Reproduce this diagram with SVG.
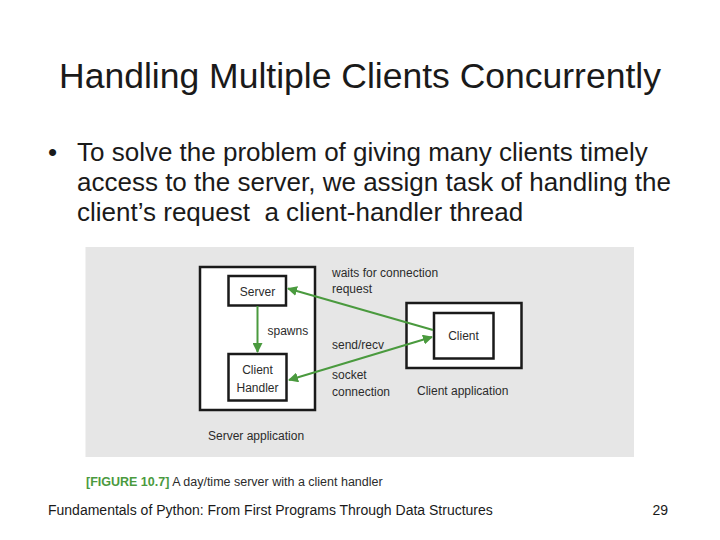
<svg xmlns="http://www.w3.org/2000/svg" width="720" height="540" viewBox="0 0 720 540">
<defs>
<marker id="ah" viewBox="0 0 10 10" refX="9" refY="5" markerWidth="5" markerHeight="5" orient="auto-start-reverse" markerUnits="strokeWidth">
<path d="M0,0 L10,5 L0,10 z" fill="#4a9a3e"/>
</marker>
<style>
.slide{font-family:"Liberation Sans",Arial,sans-serif;fill:#1a1a1a}
.lbl{font-family:"Liberation Sans",Arial,sans-serif;font-size:12px;fill:#2b2b2b}
.box{fill:#ffffff;stroke:#1a1a1a;stroke-width:2.5}
.conn{stroke:#4a9a3e;stroke-width:2;fill:none}
</style>
</defs>
<rect width="720" height="540" fill="#ffffff"/>
<text class="slide" x="360" y="88" font-size="35.5" text-anchor="middle">Handling Multiple Clients Concurrently</text>
<g class="slide" font-size="26">
<text x="48" y="161">•</text>
<text x="77" y="161">To solve the problem of giving many clients timely</text>
<text x="77" y="191">access to the server, we assign task of handling the</text>
<text x="77" y="221" style="white-space:pre">client’s request  a client-handler thread</text>
</g>
<rect x="85.5" y="247" width="548.5" height="210" fill="#e6e6e6"/>
<g id="server-app">
<rect class="box" x="200" y="267" width="115" height="143"/>
<text class="lbl" x="208" y="440">Server application</text>
</g>
<g id="server">
<rect class="box" x="228.5" y="276" width="57.5" height="29.5"/>
<text class="lbl" x="257.5" y="295.5" text-anchor="middle">Server</text>
</g>
<g id="client-handler">
<rect class="box" x="228.5" y="354" width="58" height="46.5"/>
<text class="lbl" x="257.5" y="373.5" text-anchor="middle">Client</text>
<text class="lbl" x="257.5" y="391.5" text-anchor="middle">Handler</text>
</g>
<g id="client-app">
<rect class="box" x="406.5" y="303" width="115" height="65"/>
<text class="lbl" x="417" y="395">Client application</text>
</g>
<g id="client">
<rect class="box" x="434" y="313" width="59.5" height="45.5"/>
<text class="lbl" x="463.5" y="340" text-anchor="middle">Client</text>
</g>
<g id="connectors">
<line class="conn" x1="257.5" y1="306" x2="257.5" y2="352" marker-end="url(#ah)"/>
<line class="conn" x1="433" y1="330" x2="288" y2="288.5" marker-end="url(#ah)"/>
<line class="conn" x1="289" y1="380" x2="432" y2="337" marker-start="url(#ah)" marker-end="url(#ah)"/>
</g>
<g id="labels">
<text class="lbl" x="267.5" y="335">spawns</text>
<text class="lbl" x="332" y="277">waits for connection</text>
<text class="lbl" x="332" y="293">request</text>
<text class="lbl" x="332" y="349">send/recv</text>
<text class="lbl" x="332" y="379">socket</text>
<text class="lbl" x="332" y="395.5">connection</text>
</g>
<g id="caption">
<text x="86" y="486" font-family="Liberation Sans,Arial,sans-serif" font-size="12.5"><tspan fill="#4a9a3e" font-weight="bold">[FIGURE 10.7]</tspan><tspan fill="#2b2b2b"> A day/time server with a client handler</tspan></text>
</g>
<text class="slide" x="48" y="515" font-size="14" fill="#000">Fundamentals of Python: From First Programs Through Data Structures</text>
<text class="slide" x="668" y="515" font-size="14" text-anchor="end">29</text>
</svg>
